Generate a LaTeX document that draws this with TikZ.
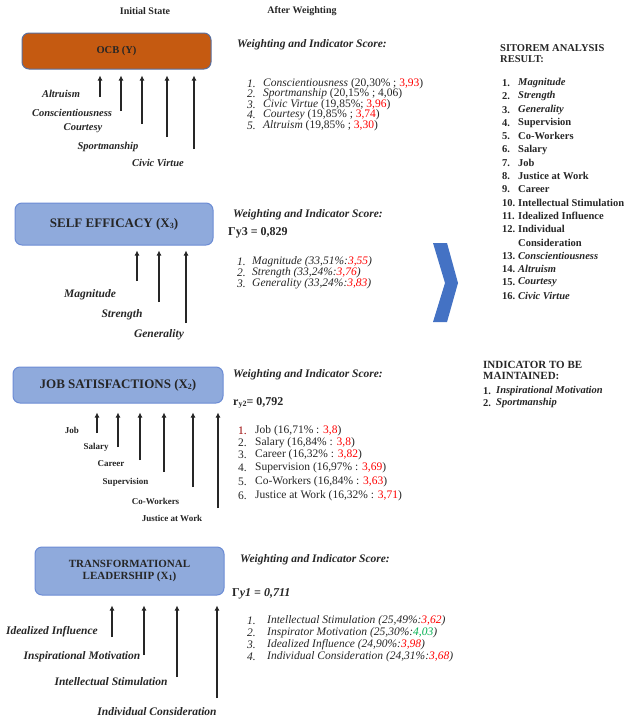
\documentclass[tikz,border=0pt]{standalone}
\usepackage{fontspec}
\setmainfont{Liberation Serif}
\usetikzlibrary{arrows.meta}
\definecolor{boxblue}{HTML}{8FAADC}
\definecolor{boxedge}{HTML}{6C8CD5}
\definecolor{ocbfill}{HTML}{C55A11}
\definecolor{ocbedge}{HTML}{5A6F9E}
\definecolor{chev}{HTML}{4472C4}
\definecolor{redv}{HTML}{FF0000}
\definecolor{greenv}{HTML}{00B050}
\definecolor{ink}{HTML}{262626}
\newcommand{\sz}[1]{\fontsize{#1}{#1}\selectfont}
\newcommand{\rv}[1]{\textcolor{redv}{#1}}
\newcommand{\gv}[1]{\textcolor{greenv}{#1}}
\newcommand{\lowsub}[1]{\raisebox{-0.3ex}{\sz{8}#1}}
\begin{document}
\begin{tikzpicture}[x=1pt,y=-1pt,
  hdr/.style={font=\sz{10}\bfseries, inner sep=0, text=ink},
  box/.style={draw=boxedge, line width=1pt, fill=boxblue, rounded corners=7pt, text=ink, align=center, inner sep=0},
  up/.style={-{Latex[length=5pt,width=5pt]}, line width=2.1pt, draw=ink},
  albl/.style={font=\sz{10.5}\bfseries\itshape, inner sep=0, text=ink},
  blbl/.style={font=\sz{11.5}\bfseries\itshape, inner sep=0, text=ink},
  jlbl/.style={font=\sz{9}\bfseries, inner sep=0, text=ink},
  wt/.style={anchor=west, inner sep=0, font=\sz{11.5}\bfseries\itshape, text=ink},
  rr/.style={anchor=west, inner sep=0, font=\sz{12}\bfseries, text=ink},
  li/.style={anchor=west, inner sep=0, font=\sz{11.5}, text=ink},
  lii/.style={anchor=west, inner sep=0, font=\sz{11.5}\itshape, text=ink},
  sr/.style={anchor=west, inner sep=0, font=\sz{10.5}\bfseries, text=ink},
  sri/.style={anchor=west, inner sep=0, font=\sz{10.5}\bfseries\itshape, text=ink},
  ind/.style={anchor=west, inner sep=0, font=\sz{11}\bfseries, text=ink},
  indl/.style={anchor=west, inner sep=0, font=\sz{10.5}\bfseries, text=ink},
  indi/.style={anchor=west, inner sep=0, font=\sz{10.5}\bfseries\itshape, text=ink}
]
\fill[white] (0,0) rectangle (626,720);
\useasboundingbox (0,0) rectangle (626,720);

% headers
\node[hdr] (h1) at (145,11) {Initial State};
\node[hdr] (h2) at (302,11) {After Weighting};

% ---------------- OCB ----------------
\node[box, draw=ocbedge, fill=ocbfill, minimum width=189pt, minimum height=36pt, font=\sz{10.5}\bfseries] (ocb) at (116.5,51) {OCB (Y)};
\foreach \n/\x/\y in {1/100/97, 2/121/111, 3/142/124, 4/167/137, 5/194/149}{
  \coordinate (o\n) at (\x,\y);
  \draw[up, shorten >=6pt] (o\n) -- (o\n |- ocb.south);
}
\node[albl] (la1) at (61,94) {Altruism};
\node[albl] (la2) at (72,113) {Conscientiousness};
\node[albl] (la3) at (83,128) {Courtesy};
\node[albl] (la4) at (108,147) {Sportmanship};
\node[albl] (la5) at (158,163) {Civic Virtue};

\node[wt] (w1) at (237,45) {Weighting and Indicator Score:};
\node[lii] (n11) at (247,83.5) {1.};
\node[li] (t11) at (263,83.5) {\textit{Conscientiousness} (20,30\% ; \rv{3,93})};
\node[lii] (n12) at (247,94) {2.};
\node[li] (t12) at (263,94) {\textit{Sportmanship} (20,15\% ; 4,06)};
\node[lii] (n13) at (247,104.5) {3.};
\node[li] (t13) at (263,104.5) {\textit{Civic Virtue} (19,85\%; \rv{3,96})};
\node[lii] (n14) at (247,115) {4.};
\node[li] (t14) at (263,115) {\textit{Courtesy} (19,85\% ; \rv{3,74})};
\node[lii] (n15) at (247,126) {5.};
\node[li] (t15) at (263,126) {\textit{Altruism} (19,85\% ; \rv{3,30})};

% ---------------- SELF EFFICACY ----------------
\node[box, minimum width=198pt, minimum height=42pt, font=\sz{13}\bfseries] (se) at (114,224) {SELF EFFICACY (X\lowsub{3})};
\foreach \n/\x/\y in {1/137/281, 2/159/302, 3/186/323}{
  \coordinate (s\n) at (\x,\y);
  \draw[up, shorten >=5pt] (s\n) -- (s\n |- se.south);
}
\node[blbl] (ls1) at (90,295) {Magnitude};
\node[blbl] (ls2) at (122,315) {Strength};
\node[blbl] (ls3) at (159,335) {Generality};

\node[wt] (w2) at (233,215) {Weighting and Indicator Score:};
\node[rr] (r3) at (228,233) {Γy3 = 0,829};
\node[lii] (n21) at (237,262) {1.};
\node[lii] (t21) at (252,262) {Magnitude (33,51\%:\rv{3,55})};
\node[lii] (n22) at (237,273) {2.};
\node[lii] (t22) at (252,273) {Strength (33,24\%:\rv{3,76})};
\node[lii] (n23) at (237,284) {3.};
\node[lii] (t23) at (252,284) {Generality (33,24\%:\rv{3,83})};

% chevron
\fill[chev] (433,243) -- (447,243) -- (458,283) -- (447,322) -- (433,322) -- (445,283) -- cycle;

% ---------------- JOB SATISFACTIONS ----------------
\node[box, minimum width=210pt, minimum height=36pt, font=\sz{13}\bfseries] (js) at (118,385) {JOB SATISFACTIONS (X\lowsub{2})};
\foreach \n/\x/\y in {1/97/433, 2/118/447, 3/140/460, 4/164/472, 5/193/487, 6/218/508}{
  \coordinate (j\n) at (\x,\y);
  \draw[up, shorten >=9pt] (j\n) -- (j\n |- js.south);
}
\node[jlbl] (lj1) at (72,430) {Job};
\node[jlbl] (lj2) at (96,447) {Salary};
\node[jlbl] (lj3) at (111,464) {Career};
\node[jlbl] (lj4) at (125.5,482) {Supervision};
\node[jlbl] (lj5) at (155.5,501) {Co-Workers};
\node[jlbl] (lj6) at (172,518) {Justice at Work};

\node[wt] (w3) at (233,375) {Weighting and Indicator Score:};
\node[rr] (r2) at (233,403) {r\lowsub{y2}= 0,792};
\node[li, text=red!60!black] (n31) at (238,431) {1.};
\node[li] (t31) at (255,431) {Job (16,71\% : \rv{3,8})};
\node[li] (n32) at (238,442.5) {2.};
\node[li] (t32) at (255,442.5) {Salary (16,84\% : \rv{3,8})};
\node[li] (n33) at (238,454.5) {3.};
\node[li] (t33) at (255,454.5) {Career (16,32\% : \rv{3,82})};
\node[li] (n34) at (238,468) {4.};
\node[li] (t34) at (255,468) {Supervision (16,97\% : \rv{3,69})};
\node[li] (n35) at (238,482) {5.};
\node[li] (t35) at (255,482) {Co-Workers (16,84\% : \rv{3,63})};
\node[li] (n36) at (238,496) {6.};
\node[li] (t36) at (255,496) {Justice at Work (16,32\% : \rv{3,71})};

% ---------------- TRANSFORMATIONAL LEADERSHIP ----------------
\node[box, minimum width=189pt, minimum height=48pt, font=\sz{11}\bfseries] (tl) at (129.5,571) {TRANSFORMATIONAL\\[1pt]LEADERSHIP (X\lowsub{1})};
\foreach \n/\x/\y in {1/112/637, 2/144/655, 3/177/677, 4/217/698}{
  \coordinate (t\n) at (\x,\y);
  \draw[up, shorten >=10pt] (t\n) -- (t\n |- tl.south);
}
\node[blbl] (lt1) at (52,632) {Idealized Influence};
\node[blbl] (lt2) at (82,657) {Inspirational Motivation};
\node[blbl] (lt3) at (111,682) {Intellectual Stimulation};
\node[blbl] (lt4) at (157,712) {Individual Consideration};

\node[wt] (w4) at (240,560) {Weighting and Indicator Score:};
\node[rr] (r1) at (232,594) {Γ\textit{y1 = 0,711}};
\node[lii] (n41) at (247,621) {1.};
\node[lii] (t41) at (267,621) {Intellectual Stimulation (25,49\%:\rv{3,62})};
\node[lii] (n42) at (247,633) {2.};
\node[lii] (t42) at (267,633) {Inspirator Motivation (25,30\%:\gv{4,03})};
\node[lii] (n43) at (247,645) {3.};
\node[lii] (t43) at (267,645) {Idealized Influence (24,90\%:\rv{3,98})};
\node[lii] (n44) at (247,657) {4.};
\node[lii] (t44) at (267,657) {Individual Consideration (24,31\%:\rv{3,68})};

% ---------------- SITOREM ----------------
\node[sr] (sh1) at (500,48) {SITOREM ANALYSIS};
\node[sr] (sh2) at (500,59) {RESULT:};
\foreach \k/\num/\txt/\st in {
  0/1./Magnitude/sri, 1/2./Strength/sri, 2/3./Generality/sri,
  3/4./Supervision/sr, 4/5./Co-Workers/sr, 5/6./Salary/sr, 6/7./Job/sr,
  7/8./Justice at Work/sr, 8/9./Career/sr, 9/10./Intellectual Stimulation/sr,
  10/11./Idealized Influence/sr, 11/12./Individual/sr}{
  \node[sr] (sn\k) at (502,83+13.3*\k) {\num};
  \node[\st] (st\k) at (518,83+13.3*\k) {\txt};
}
\node[sr] (st12) at (518,83+13.3*12) {Consideration};
\foreach \k/\num/\txt in {13/13./Conscientiousness, 14/14./Altruism, 15/15./Courtesy, 16/16./Civic Virtue}{
  \node[sr] (sn\k) at (502,83+13.3*\k) {\num};
  \node[sri] (st\k) at (518,83+13.3*\k) {\txt};
}

% ---------------- INDICATOR TO BE MAINTAINED ----------------
\node[ind] (ih1) at (483,365) {INDICATOR TO BE};
\node[ind] (ih2) at (483,376) {MAINTAINED:};
\node[indl] (in1) at (483,391) {1.};
\node[indi] (it1) at (496,391) {Inspirational Motivation};
\node[indl] (in2) at (483,403) {2.};
\node[indi] (it2) at (496,403) {Sportmanship};
\end{tikzpicture}
\end{document}
